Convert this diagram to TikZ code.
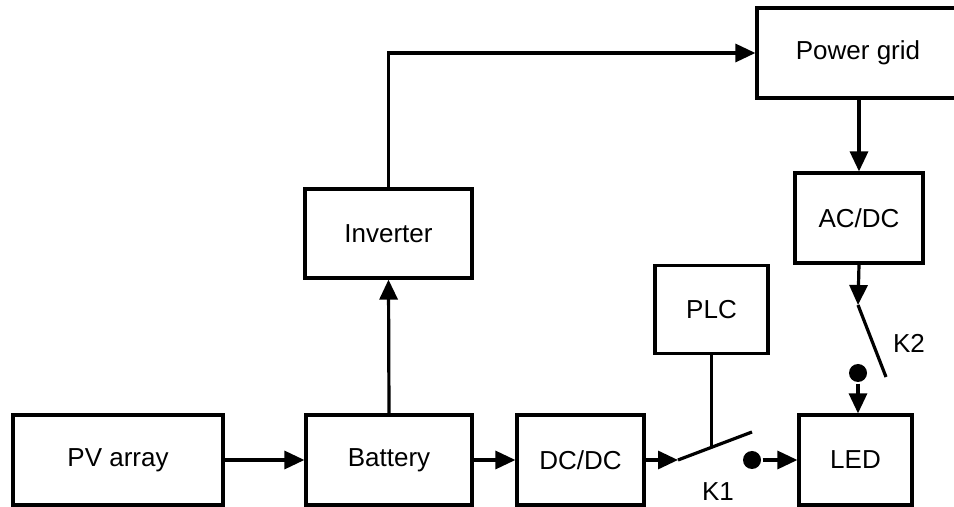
\documentclass[tikz,border=0pt]{standalone}
\usepackage{fontspec}
\setmainfont{Liberation Sans}
\usetikzlibrary{arrows.meta,calc}
\begin{document}
\begin{tikzpicture}[x=0.5pt,y=-0.5pt,
  line width=1.6pt,
  box/.style={draw,line width=1.6pt,inner sep=0pt,font=\fontsize{13}{15}\selectfont},
  lbl/.style={inner sep=0pt,font=\fontsize{13}{15}\selectfont},
  arr/.style={-{Triangle[length=10pt,width=9pt]}},
  dotn/.style={circle,fill=black,inner sep=0pt,minimum size=9pt}]
\useasboundingbox (0,0) rectangle (954,507);
\node[box,minimum width=105pt,minimum height=45pt] (pv) at (118,460) {PV array};
\node[box,minimum width=83pt,minimum height=45pt] (bat) at (389,460) {Battery};
\node[box,minimum width=63.5pt,minimum height=45pt] (dcdc) at (580.5,460) {DC/DC};
\node[box,minimum width=56.5pt,minimum height=45pt] (led) at (855.5,460) {LED};
\node[box,minimum width=83.5pt,minimum height=44.5pt] (inv) at (388.5,233.5) {Inverter};
\node[box,minimum width=56.5pt,minimum height=44pt] (plc) at (711.5,309.5) {PLC};
\node[box,minimum width=64pt,minimum height=45pt] (acdc) at (859,218) {AC/DC};
\node[box,minimum width=101pt,minimum height=45pt] (grid) at (858,53) {Power grid};
% switch K1
\coordinate (k1a) at (678,460);
\coordinate (k1b) at (752,432);
\node[dotn] (d1) at (752,460) {};
% switch K2
\coordinate (k2a) at (858,305);
\coordinate (k2b) at (886,377);
\node[dotn] (d2) at (858,373) {};
\node[lbl] (k1l) at (718,492) {K1};
\node[lbl] (k2l) at (909,343) {K2};
% connectors
\draw[arr] (pv.east) -- (bat.west);
\draw[arr] (bat.east) -- (dcdc.west);
\draw[arr] (dcdc.east) -- (k1a);
\draw (k1a) -- (k1b);
\draw (plc.south) -- (plc.south |- {$(k1a)!0.453!(k1b)$});
\draw[arr] (d1) -- (led.west);
\draw[arr] (bat.north) -- (inv.south);
\draw[arr] (inv.north) |- (grid.west);
\draw[arr] (grid.south -| acdc.north) -- (acdc.north);
\draw[arr] (acdc.south) -- (k2a);
\draw (k2a) -- (k2b);
\draw[arr] (d2) -- (d2 |- led.north);
\end{tikzpicture}
\end{document}
